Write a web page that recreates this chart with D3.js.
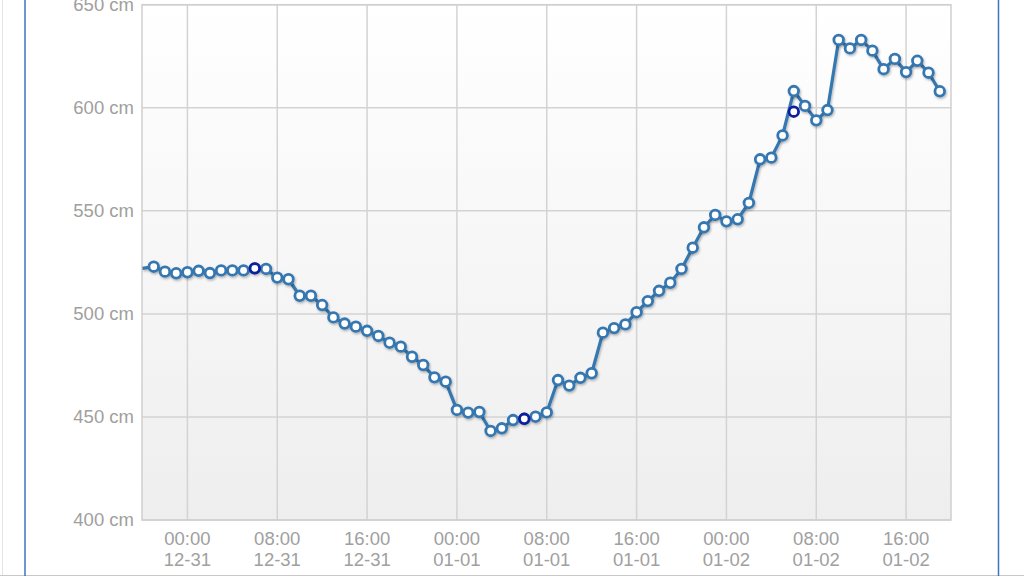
<!DOCTYPE html>
<html>
<head>
<meta charset="utf-8">
<script src="https://cdn.jsdelivr.net/npm/d3@7"></script>
<style>
  html, body { margin: 0; padding: 0; background: #ffffff; }
  svg { display: block; }
  text { font-family: "Liberation Sans", Arial, Helvetica, sans-serif; }
</style>
</head>
<body>
<svg id="chart" width="1024" height="576"></svg>
<script>
// ---- data ----
const seriesStart = "2013-12-30T20:00:00";   // first hourly reading
const hourlyValues = [
  522.1, 522.9, 520.5, 519.7, 520.2, 520.9, 519.8, 521.1, 521.1, 521.1,
  522.1, 521.8, 517.6, 516.8, 508.8, 508.8, 504.3, 498.3, 495.3, 493.8,
  491.8, 489.3, 486.0, 484.1, 479.2, 475.2, 469.2, 467.1, 453.4, 452.1,
  452.4, 443.2, 444.5, 448.5, 449.1, 450.1, 452.2, 467.9, 465.2, 469.0,
  471.2, 490.9, 493.1, 494.9, 500.8, 506.2, 511.2, 515.1, 521.8, 532.1,
  542.0, 548.0, 544.9, 545.9, 553.8, 575.0, 575.8, 586.6, 608.1, 600.9,
  593.9, 598.9, 632.9, 628.8, 632.9, 627.7, 618.7, 623.7, 617.3, 622.8,
  617.0, 608.0
];
const dailyTimes = ["2013-12-31T06:00:00", "2014-01-01T06:00:00", "2014-01-02T06:00:00"];
const dailyValues = [522.1, 449.1, 598.1];
const xDomain = ["2013-12-30T20:00:00", "2014-01-02T20:00:00"];
const yDomain = [400, 650];
const yTicks = [400, 450, 500, 550, 600, 650];
const yUnit = "cm";

// ---- build ----
const parse = d3.isoParse;
const t0 = parse(seriesStart);
const hourly = hourlyValues.map((v, i) => ({ t: d3.timeHour.offset(t0, i), v }));
const daily = dailyTimes.map((s, i) => ({ t: parse(s), v: dailyValues[i] }));

const svg = d3.select("#chart");
const L = 142, R = 951, T = 4.7, B = 520;

// page frame decorations
svg.append("line").attr("x1", 2.5).attr("x2", 2.5).attr("y1", 0).attr("y2", 576)
  .attr("stroke", "#e4e4e4").attr("stroke-width", 1);
svg.append("line").attr("x1", 0).attr("x2", 1024).attr("y1", 575.5).attr("y2", 575.5)
  .attr("stroke", "#c8c8c8").attr("stroke-width", 1);
svg.append("line").attr("x1", 25).attr("x2", 25).attr("y1", 0).attr("y2", 576)
  .attr("stroke", "#3d74c0").attr("stroke-width", 1.5);
svg.append("line").attr("x1", 998.5).attr("x2", 998.5).attr("y1", 0).attr("y2", 576)
  .attr("stroke", "#3d74c0").attr("stroke-width", 1.5);

const defs = svg.append("defs");
const grad = defs.append("linearGradient").attr("id", "bg").attr("x1", 0).attr("x2", 0).attr("y1", 0).attr("y2", 1);
grad.append("stop").attr("offset", "0%").attr("stop-color", "#ffffff");
grad.append("stop").attr("offset", "100%").attr("stop-color", "#eeeeee");
defs.append("clipPath").attr("id", "clipLine").append("rect")
  .attr("x", L).attr("y", T - 6).attr("width", R - L).attr("height", B - T + 12);
const f = defs.append("filter").attr("id", "shadow").attr("x", "-5%").attr("y", "-5%").attr("width", "110%").attr("height", "120%");
f.append("feDropShadow").attr("dx", 1).attr("dy", 1.5).attr("stdDeviation", 1.2)
  .attr("flood-color", "#000").attr("flood-opacity", 0.28);

const x = d3.scaleTime().domain(xDomain.map(parse)).range([L + 0.5, R]);
const y = d3.scaleLinear().domain(yDomain).range([B, T]);

svg.append("rect").attr("x", L).attr("y", T).attr("width", R - L).attr("height", B - T)
  .attr("fill", "url(#bg)");

// grid
const xTicks = x.ticks(d3.timeHour.every(8));
svg.append("g").selectAll("line").data(xTicks).join("line")
  .attr("x1", d => x(d)).attr("x2", d => x(d)).attr("y1", T).attr("y2", B)
  .attr("stroke", "#d3d3d3").attr("stroke-width", 1.5);
svg.append("g").selectAll("line").data(yTicks).join("line")
  .attr("x1", L).attr("x2", R).attr("y1", d => y(d)).attr("y2", d => y(d))
  .attr("stroke", "#d3d3d3").attr("stroke-width", 1.5);
svg.append("rect").attr("x", L).attr("y", T).attr("width", R - L).attr("height", B - T)
  .attr("fill", "none").attr("stroke", "#cfcfcf").attr("stroke-width", 1.5);

// y labels
const yAxis = d3.axisLeft(y).tickValues(yTicks).tickSize(0).tickPadding(8)
  .tickFormat(d => d + " " + yUnit);
const gy = svg.append("g").attr("transform", `translate(${L},0)`).call(yAxis);
gy.select(".domain").remove();
gy.selectAll("text").attr("fill", "#a0a0a0").attr("font-size", 18.5)
  .attr("font-family", "'Liberation Sans', Arial, sans-serif");

// x labels (two lines)
const gx = svg.append("g");
const fmtT = d3.timeFormat("%H:%M"), fmtD = d3.timeFormat("%m-%d");
const xl = gx.selectAll("g").data(xTicks).join("g").attr("transform", d => `translate(${x(d)},0)`);
xl.append("text").attr("y", 545).attr("text-anchor", "middle").attr("fill", "#a0a0a0")
  .attr("font-size", 18.5).text(d => fmtT(d));
xl.append("text").attr("y", 566).attr("text-anchor", "middle").attr("fill", "#a0a0a0")
  .attr("font-size", 18.5).text(d => fmtD(d));

// line
const lineColor = "#3677b0";
const line = d3.line().x(d => x(d.t)).y(d => y(d.v));
const plot = svg.append("g");
plot.append("path").datum(hourly).attr("d", line).attr("fill", "none")
  .attr("stroke", lineColor).attr("stroke-width", 3.2).attr("stroke-linejoin", "round")
  .attr("clip-path", "url(#clipLine)").attr("filter", "url(#shadow)");

const inside = hourly.filter(d => d.t > x.domain()[0] && d.t <= x.domain()[1]);
plot.append("g").attr("filter", "url(#shadow)").selectAll("circle").data(inside).join("circle")
  .attr("cx", d => x(d.t)).attr("cy", d => y(d.v)).attr("r", 4.8)
  .attr("fill", "#ffffff").attr("stroke", lineColor).attr("stroke-width", 2.8);

plot.append("g").selectAll("circle").data(daily).join("circle")
  .attr("cx", d => x(d.t)).attr("cy", d => y(d.v)).attr("r", 4.8)
  .attr("fill", "#ffffff").attr("stroke", "#0d1f9c").attr("stroke-width", 2.8);
</script>
</body>
</html>
